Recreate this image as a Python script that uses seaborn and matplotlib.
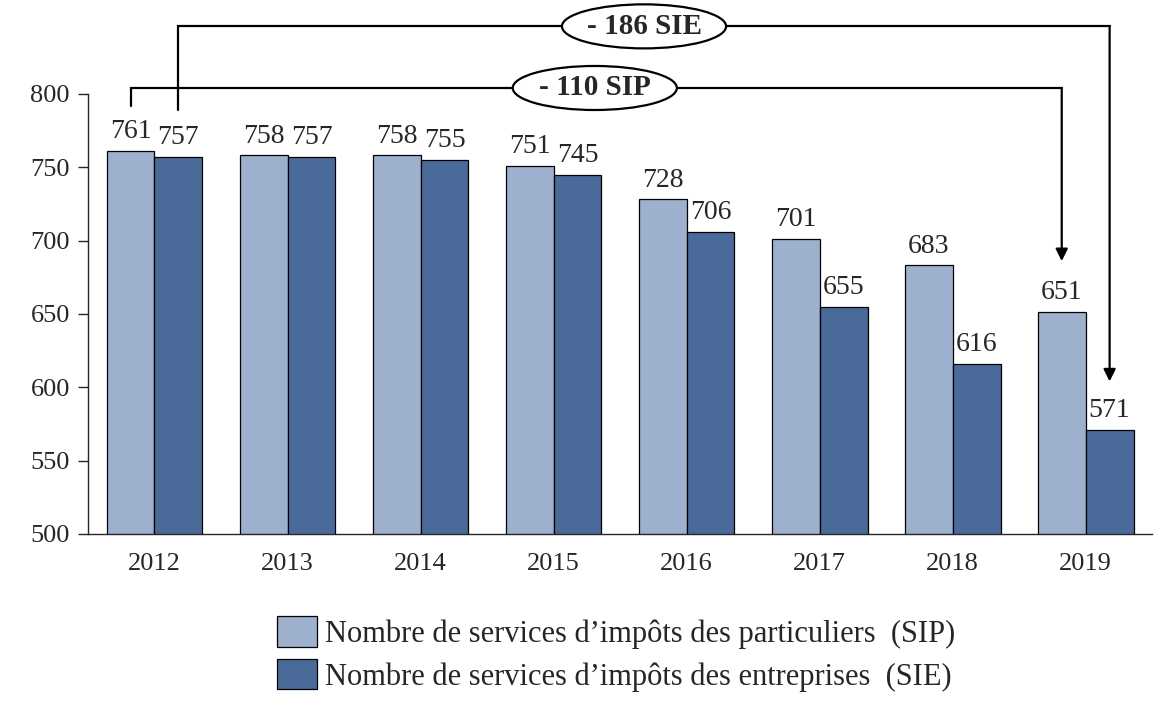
import pandas as pd
import matplotlib.pyplot as plt
from matplotlib.patches import Ellipse
import seaborn as sns

sns.set_style('white')
plt.rcParams['font.family'] = ['Liberation Serif', 'DejaVu Serif']

years = ['2012', '2013', '2014', '2015', '2016', '2017', '2018', '2019']
sip = [761, 758, 758, 751, 728, 701, 683, 651]
sie = [757, 757, 755, 745, 706, 655, 616, 571]
lab_sip = 'Nombre de services d’impôts des particuliers  (SIP)'
lab_sie = 'Nombre de services d’impôts des entreprises  (SIE)'
colors = ['#9DB0CE', '#4A6A99']

df = pd.DataFrame({
    'year': years * 2,
    'n': sip + sie,
    'serie': [lab_sip] * len(years) + [lab_sie] * len(years),
})

fig = plt.figure(figsize=(11.65, 7.11), dpi=100)
ax = fig.add_axes([0.0755, 0.249, 0.9135, 0.619])

sns.barplot(data=df, x='year', y='n', hue='serie', palette=colors, width=0.72,
            edgecolor='black', linewidth=0.9, saturation=1, ax=ax)

for c in ax.containers:
    ax.bar_label(c, padding=5, fontsize=20)

ax.set_ylim(500, 800)
ax.set_xlim(-0.5, 7.5)
ax.set_yticks([500, 550, 600, 650, 700, 750, 800])
ax.set_xlabel('')
ax.set_ylabel('')
ax.tick_params(axis='y', which='major', left=True, length=7, width=1, labelsize=19, pad=6)
ax.tick_params(axis='x', bottom=False, labelsize=19, pad=10)
sns.despine(ax=ax)
ax.spines['left'].set_linewidth(1)
ax.spines['bottom'].set_linewidth(1)

# brackets with arrows (- 110 SIP / - 186 SIE)
off = 0.18
first, last = 0, len(years) - 1
lw = 1.6


def bracket(x0, x1, y_start, y_line, y_end, xtxt, text):
    ax.plot([x0, x0, x1], [y_start, y_line, y_line],
            color='black', lw=lw, clip_on=False, solid_joinstyle='miter')
    ax.annotate('', xy=(x1, y_end), xytext=(x1, y_line),
                arrowprops=dict(arrowstyle='-|>', color='black', lw=lw,
                                shrinkA=0, shrinkB=0, mutation_scale=18),
                annotation_clip=False)
    ax.add_patch(Ellipse((xtxt, y_line), 1.234, 30, fc='white', ec='black',
                         lw=lw, clip_on=False, zorder=5))
    ax.text(xtxt, y_line, text, ha='center', va='center', fontsize=21,
            fontweight='bold', zorder=6)


bracket(first - off, last - off, sip[0] + 31, 804, sip[-1] + 35, 3.31,
        '- %d SIP' % (sip[0] - sip[-1]))
bracket(first + off, last + off, sie[0] + 32, 846, sie[-1] + 33, 3.68,
        '- %d SIE' % (sie[0] - sie[-1]))

handles, labels = ax.get_legend_handles_labels()
ax.get_legend().remove()
fig.legend(handles, labels, loc='upper left', bbox_to_anchor=(0.238, 0.133),
           frameon=False, fontsize=22, handlelength=1.3, handleheight=1.15,
           handletextpad=0.25, labelspacing=0.33, borderpad=0, borderaxespad=0)

fig.savefig('out.png', dpi=100)
